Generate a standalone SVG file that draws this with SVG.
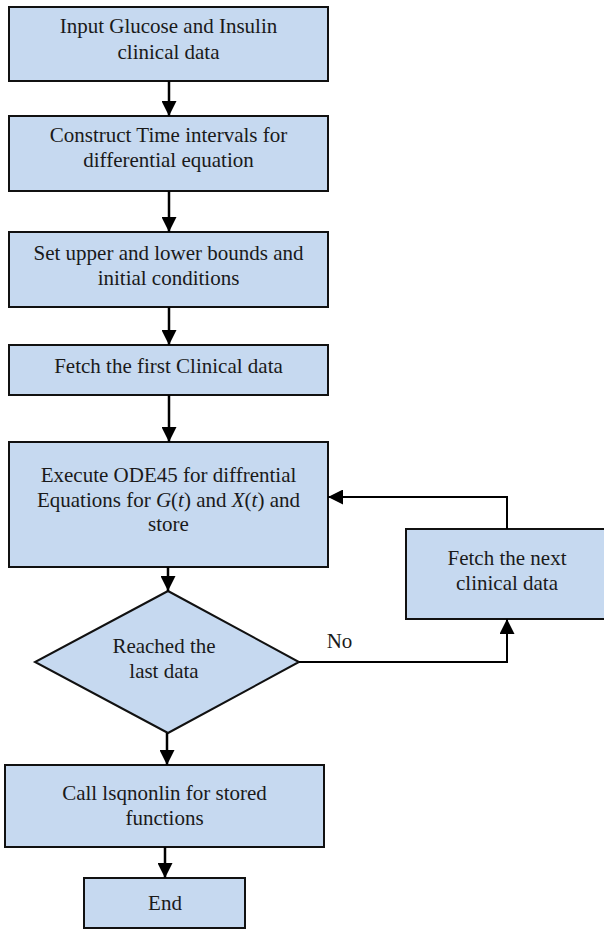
<svg xmlns="http://www.w3.org/2000/svg" width="604" height="929" viewBox="0 0 604 929" font-family="Liberation Serif, serif">
<style>
.box{fill:#c6d9f0;stroke:#111;stroke-width:2}
text{font-family:"Liberation Serif",serif;font-size:21px;fill:#1a1a1a;text-anchor:middle}
.c{fill:none;stroke:#000;stroke-width:2.5}
.c2{fill:none;stroke:#000;stroke-width:2}
.i{font-style:italic}
</style>
<defs>
<marker id="ah" markerUnits="userSpaceOnUse" markerWidth="15" markerHeight="15" refX="15" refY="7.5" orient="auto" viewBox="0 0 15 15">
<path d="M0,0 L15,7.5 L0,15 z" fill="#000"/>
</marker>
</defs>
<rect width="604" height="929" fill="#fff"/>
<g id="n1"><rect class="box" x="9" y="7" width="319" height="74"/><text x="168.5" y="33">Input Glucose and Insulin</text><text x="168.5" y="59">clinical data</text></g>
<g id="n2"><rect class="box" x="9" y="116" width="319" height="75"/><text x="168.5" y="142">Construct Time intervals for</text><text x="168.5" y="167">differential equation</text></g>
<g id="n3"><rect class="box" x="9" y="232" width="319" height="75"/><text x="168.5" y="260">Set upper and lower bounds and</text><text x="168.5" y="285">initial conditions</text></g>
<g id="n4"><rect class="box" x="9" y="345" width="319" height="50"/><text x="168.5" y="373">Fetch the first Clinical data</text></g>
<g id="n5"><rect class="box" x="9" y="442" width="319" height="125"/><text x="168.5" y="482">Execute ODE45 for diffrential</text><text x="168.5" y="507">Equations for <tspan class="i">G</tspan>(<tspan class="i">t</tspan>) and <tspan class="i">X</tspan>(<tspan class="i">t</tspan>) and</text><text x="168.5" y="531">store</text></g>
<g id="n6"><rect class="box" x="406" y="529" width="210" height="90"/><text x="507" y="565">Fetch the next</text><text x="507" y="590">clinical data</text></g>
<g id="n7"><polygon class="box" points="168,591 299,662 168,733 35,662"/><text x="164" y="653">Reached the</text><text x="164" y="678">last data</text></g>
<g id="n8"><rect class="box" x="5" y="765" width="319" height="82"/><text x="164.5" y="800">Call lsqnonlin for stored</text><text x="164.5" y="825">functions</text></g>
<g id="n9"><rect class="box" x="84" y="878" width="161" height="50"/><text x="165" y="910">End</text></g>
<g id="connectors">
<path class="c" d="M169,81 V116" marker-end="url(#ah)"/>
<path class="c" d="M169,191 V232" marker-end="url(#ah)"/>
<path class="c" d="M169,307 V345" marker-end="url(#ah)"/>
<path class="c" d="M169,395 V442" marker-end="url(#ah)"/>
<path class="c" d="M168,567 V591" marker-end="url(#ah)"/>
<path class="c" d="M167,733 V765" marker-end="url(#ah)"/>
<path class="c" d="M165,847 V878" marker-end="url(#ah)"/>
<path class="c2" d="M299,662 H507 V619" marker-end="url(#ah)"/>
<path class="c2" d="M507,529 V497 H328" marker-end="url(#ah)"/>
<text x="339.5" y="648">No</text>
</g>
</svg>
